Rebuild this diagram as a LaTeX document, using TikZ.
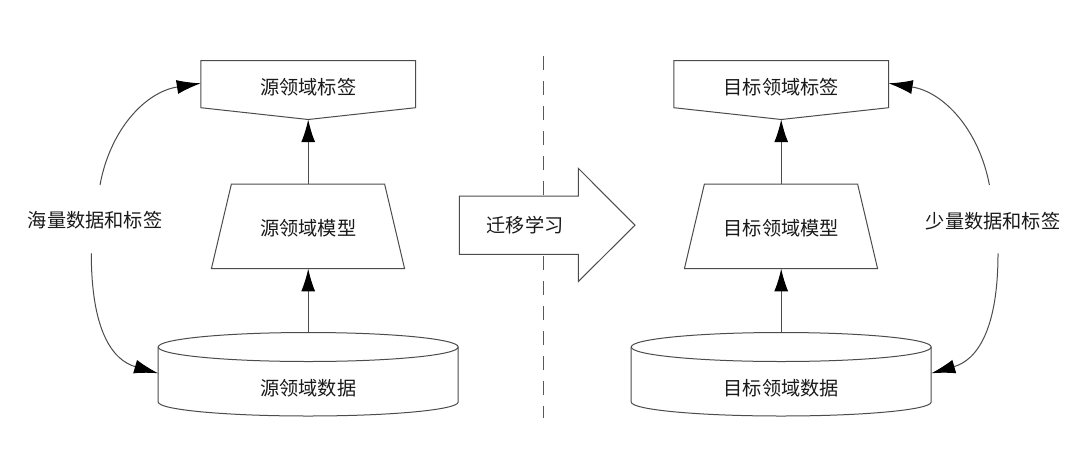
\documentclass[tikz,border=0pt]{standalone}
\usepackage{fontspec}
\newfontfamily\cjk{Noto Sans CJK SC}
\usetikzlibrary{arrows.meta}
\tikzset{
  outline/.style={draw=black!70, line width=0.75pt, fill=white, line join=miter},
  conn/.style={draw=black!70, line width=0.75pt, -{Latex[length=17pt,width=10.5pt,color=black]}},
  curveconn/.style={draw=black!70, line width=0.75pt, -{Latex[length=18pt,width=10.5pt,color=black]}},
  lbl/.style={font=\cjk\fontsize{14.4pt}{17pt}\selectfont, text=black!90, inner sep=0pt},
  divider/.style={draw=black!65, line width=0.75pt, dash pattern=on 10.5pt off 8.25pt}
}
\begin{document}
\begin{tikzpicture}[x=0.75pt,y=-0.75pt]
\path[fill=white] (0,0) rectangle (1080,457);
\useasboundingbox (0,0) rectangle (1080,457);

% divider
\coordinate (divTop) at (543.7,56);
\coordinate (divBot) at (543.7,418);
\draw[divider] (divTop) -- (divBot);

% ---------- source side ----------
\draw[outline] (200.8,60.7) -- (415.6,60.7) -- (415.6,107.7) -- (308.2,119.5) -- (200.8,107.7) -- cycle;
\node[lbl] (srcLabel) at (308.2,86.7) {源领域标签};

\draw[outline] (231.4,184) -- (384.6,184) -- (404.6,268.7) -- (211.4,268.7) -- cycle;
\node[lbl] (srcModel) at (308.2,228.3) {源领域模型};

\draw[outline] (158.2,347) -- (158.2,402) arc[start angle=180,end angle=0,x radius=150,y radius=14]
  -- (458.2,347) arc[start angle=0,end angle=-180,x radius=150,y radius=14.5] -- cycle;
\draw[outline, fill=none] (158.2,347) arc[start angle=180,end angle=0,x radius=150,y radius=14.5];
\node[lbl] (srcData) at (308.2,388.3) {源领域数据};

\coordinate (srcLabelTip) at (308.2,119.5);
\coordinate (srcModelTop) at (308.2,184);
\coordinate (srcModelBot) at (308.2,268.7);
\coordinate (srcDataTop) at (308.2,332.5);
\draw[conn] (srcModelTop) -- (srcLabelTip);
\draw[conn] (srcDataTop) -- (srcModelBot);

\node[lbl] (srcNote) at (95,220) {海量数据和标签};
\coordinate (srcNoteUp) at (100,185);
\coordinate (srcNoteDn) at (91.3,253.3);
\coordinate (srcLabelIn) at (200.8,83.3);
\coordinate (srcDataIn) at (158.2,373.3);
\draw[curveconn] (srcNoteUp) .. controls (110,130) and (145,92) .. (srcLabelIn);
\draw[curveconn] (srcNoteDn) .. controls (91.3,330) and (112,360) .. (srcDataIn);

% ---------- transfer arrow ----------
\draw[outline] (459.3,196) -- (578.3,196) -- (578.3,168.3) -- (635,225.2) -- (578.3,281.5) -- (578.3,254.3) -- (459.3,254.3) -- cycle;
\node[lbl] (transfer) at (525,225) {迁移学习};

% ---------- target side ----------
\draw[outline] (673.8,60.7) -- (888.6,60.7) -- (888.6,107.7) -- (781.2,119.5) -- (673.8,107.7) -- cycle;
\node[lbl] (tgtLabel) at (781.2,86.7) {目标领域标签};

\draw[outline] (704.4,184) -- (857.6,184) -- (877.6,268.7) -- (684.4,268.7) -- cycle;
\node[lbl] (tgtModel) at (781.2,228.3) {目标领域模型};

\draw[outline] (631.2,347) -- (631.2,402) arc[start angle=180,end angle=0,x radius=150,y radius=14]
  -- (931.2,347) arc[start angle=0,end angle=-180,x radius=150,y radius=14.5] -- cycle;
\draw[outline, fill=none] (631.2,347) arc[start angle=180,end angle=0,x radius=150,y radius=14.5];
\node[lbl] (tgtData) at (781.2,388.3) {目标领域数据};

\coordinate (tgtLabelTip) at (781.2,119.5);
\coordinate (tgtModelTop) at (781.2,184);
\coordinate (tgtModelBot) at (781.2,268.7);
\coordinate (tgtDataTop) at (781.2,332.5);
\draw[conn] (tgtModelTop) -- (tgtLabelTip);
\draw[conn] (tgtDataTop) -- (tgtModelBot);

\node[lbl] (tgtNote) at (993,221) {少量数据和标签};
\coordinate (tgtNoteUp) at (989.4,185);
\coordinate (tgtNoteDn) at (998,253.3);
\coordinate (tgtLabelIn) at (888.6,83.3);
\coordinate (tgtDataIn) at (931.2,373.3);
\draw[curveconn] (tgtNoteUp) .. controls (979,130) and (944,92) .. (tgtLabelIn);
\draw[curveconn] (tgtNoteDn) .. controls (998,330) and (977,360) .. (tgtDataIn);
\end{tikzpicture}
\end{document}
